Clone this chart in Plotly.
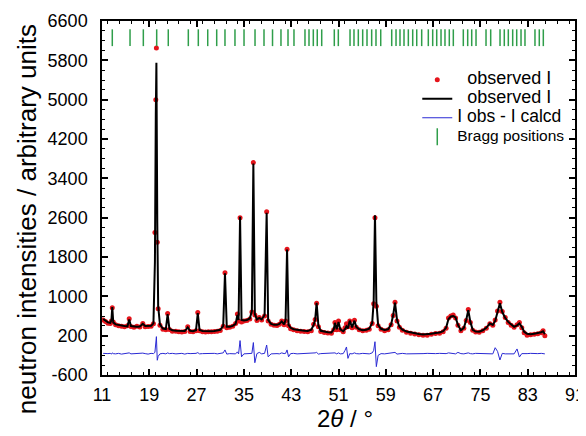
import plotly.graph_objects as go

# ---- data ----
two_theta = [11.2, 11.6, 12.0, 12.4, 12.6, 12.74, 12.9, 13.3, 13.8, 14.3, 14.8, 15.3, 15.6, 15.9,
             16.4, 16.9, 17.4, 17.9, 18.3, 18.8, 19.3, 19.7, 19.95, 20.1, 20.2, 20.35, 20.5, 20.8,
             21.3, 21.8, 22.1, 22.4, 22.9, 23.5, 24.0, 24.5, 25.0, 25.5, 25.9, 26.4, 26.9, 27.2,
             27.5, 28.0, 28.5, 29.0, 29.5, 30.0, 30.5, 31.0, 31.5, 31.8, 32.1, 32.6, 33.1, 33.6,
             33.9, 34.1, 34.35, 34.6, 35.0, 35.5, 36.0, 36.35, 36.6, 36.85, 37.2, 37.6, 38.0, 38.5,
             38.85, 39.1, 39.6, 40.1, 40.6, 41.0, 41.4, 41.8, 42.05, 42.3, 42.55, 42.9, 43.4, 44.0,
             44.6, 45.2, 45.8, 46.4, 46.8, 47.05, 47.3, 47.6, 48.0, 48.6, 49.2, 49.8, 50.2, 50.4,
             50.7, 51.0, 51.3, 51.8, 52.1, 52.35, 52.6, 52.9, 53.3, 53.7, 54.0, 54.5, 55.1, 55.7,
             56.2, 56.7, 56.95, 57.17, 57.4, 57.7, 58.2, 58.8, 59.4, 59.9, 60.25, 60.56, 60.9, 61.3,
             61.8, 62.5, 63.2, 63.9, 64.6, 65.3, 66.0, 66.7, 67.4, 68.1, 68.7, 69.2, 69.6, 70.0,
             70.4, 70.8, 71.2, 71.7, 72.2, 72.6, 72.95, 73.3, 73.7, 74.2, 74.8, 75.4, 76.0, 76.6,
             77.1, 77.5, 77.9, 78.3, 78.7, 79.2, 79.7, 80.2, 80.7, 81.2, 81.6, 82.0, 82.4, 82.9,
             83.5, 84.1, 84.7, 85.3, 85.6, 85.9]

i_calc = [540, 500, 470, 460, 520, 780, 470, 430, 415, 400, 395, 390, 530, 395,
          380, 380, 385, 440, 395, 390, 400, 450, 1700, 4700, 5750, 2500, 800, 430,
          345, 335, 640, 340, 310, 300, 295, 290, 295, 370, 300, 290, 310, 660,
          315, 295, 290, 290, 290, 295, 300, 320, 400, 1470, 380, 380, 400, 440,
          620, 520, 2620, 520, 510, 520, 550, 700, 3700, 640, 530, 560, 530, 620,
          2700, 520, 440, 420, 420, 440, 490, 430, 520, 1950, 420, 360, 330, 315,
          305, 300, 295, 320, 420, 520, 870, 400, 300, 280, 270, 265, 330, 460,
          330, 480, 330, 290, 330, 390, 350, 505, 370, 505, 380, 330, 310, 320,
          340, 460, 900, 2650, 900, 420, 340, 315, 330, 430, 620, 870, 520, 380,
          320, 285, 265, 250, 235, 225, 225, 240, 255, 265, 290, 360, 540, 590,
          600, 570, 420, 310, 360, 520, 720, 480, 320, 285, 280, 310, 360, 450,
          420, 500, 680, 860, 680, 560, 480, 420, 380, 410, 450, 380, 280, 240,
          230, 240, 250, 270, 290, 230]

i_obs = [520, 490, 455, 450, 500, 770, 480, 420, 400, 390, 380, 400, 545, 385,
         370, 390, 375, 450, 380, 385, 390, 440, 2300, 5000, 6050, 2100, 750, 410,
         330, 320, 650, 325, 290, 290, 280, 275, 285, 380, 285, 280, 300, 670,
         300, 280, 275, 280, 280, 285, 290, 305, 390, 1480, 360, 370, 390, 450,
         640, 500, 2600, 480, 500, 510, 540, 680, 3720, 620, 510, 570, 520, 600,
         2720, 500, 430, 410, 405, 430, 500, 420, 500, 1960, 400, 340, 320, 300,
         290, 285, 280, 300, 430, 530, 860, 380, 285, 265, 255, 250, 320, 470,
         320, 500, 320, 280, 360, 440, 380, 500, 360, 515, 370, 320, 300, 310,
         330, 450, 850, 2600, 800, 400, 330, 300, 320, 420, 610, 880, 500, 370,
         310, 270, 250, 235, 220, 210, 210, 230, 245, 250, 280, 350, 560, 600,
         620, 560, 410, 300, 350, 510, 730, 470, 310, 275, 270, 300, 350, 440,
         410, 520, 700, 880, 690, 570, 470, 410, 370, 420, 470, 360, 260, 210,
         220, 230, 240, 260, 300, 200]

i_diff = [-160, -170, -165, -160, -175, -150, -165, -170, -160, -175, -165, -160, -150, -170,
          -165, -160, -170, -155, -165, -175, -160, -165, -140, 60, 180, -300, -220, -170,
          -160, -170, -150, -165, -160, -170, -165, -160, -175, -160, -165, -170, -160, -145,
          -170, -165, -160, -170, -165, -160, -170, -165, -150, -90, -175, -165, -160, -170,
          -130, -170, 100, -230, -170, -165, -170, -160, 60, -350, -165, -140, -170, -160,
          10, -230, -170, -160, -165, -170, -150, -165, -160, -90, -230, -165, -160, -170,
          -165, -160, -170, -165, -160, -150, -140, -175, -165, -160, -170, -165, -160, -150,
          -170, -150, -170, -165, -100, -30, -262, -165, -170, -150, -165, -170, -160, -165,
          -170, -150, -100, 77, -430, -200, -165, -170, -160, -165, -150, -140, -175, -165,
          -160, -170, -165, -160, -170, -165, -160, -170, -165, -160, -170, -165, -150, -160,
          -155, -170, -140, -165, -170, -155, -150, -165, -170, -160, -165, -170, -160, -165,
          -170, -45, -120, -295, -160, -170, -165, -160, -170, -70, -235, -165, -170, -165,
          -160, -170, -165, -160, -165, -170]

bragg_theta = [12.74, 15.74, 17.99, 20.25, 22.21, 25.60, 27.29, 28.88, 30.40, 31.80, 33.49,
               35.02, 36.88, 38.40, 39.84, 41.27, 42.46, 43.47, 45.33, 46.01, 46.74, 47.41,
               48.16, 50.29, 50.97, 52.95, 53.62, 54.35, 55.09, 55.82, 56.61, 57.34, 58.14,
               60.00, 60.73, 61.40, 62.08, 62.81, 63.55, 64.23, 65.07, 66.19, 66.93, 67.61,
               68.34, 69.01, 69.74, 70.42, 72.11, 72.85, 73.53, 74.26, 75.95, 76.74, 78.32,
               79.04, 79.72, 80.46, 81.14, 81.87, 82.54, 84.23, 84.96, 85.64]
BRAGG_ROW = 6260

x_ticks = [11, 19, 27, 35, 43, 51, 59, 67, 75, 83, 91]
y_ticks = [-600, 200, 1000, 1800, 2600, 3400, 4200, 5000, 5800, 6600]
y_ticktext = ["-600", "200", "1000", "1800", "2600", "3400", "4200", "5000", "5800", "6600"]

FONT = "Arial, Liberation Sans, sans-serif"


def lg(text, size):
    return f'<span style="font-size:{size}px">{text}</span>'


fig = go.Figure()

fig.add_trace(go.Scatter(
    x=two_theta, y=i_obs, mode="markers", name=lg("&nbsp;&nbsp;observed I", 18),
    marker=dict(color="#e5141b", size=5, symbol="circle", line=dict(width=0)),
))
fig.add_trace(go.Scatter(
    x=two_theta, y=i_calc, mode="lines", name=lg("&nbsp;&nbsp;observed I", 18),
    line=dict(color="black", width=2),
))
fig.add_trace(go.Scatter(
    x=two_theta, y=i_diff, mode="lines", name=lg("I obs - I calcd", 17.5),
    line=dict(color="#2a2ad4", width=1),
))
fig.add_trace(go.Scatter(
    x=bragg_theta, y=[BRAGG_ROW] * len(bragg_theta), mode="markers",
    name=lg("Bragg positions", 15.5),
    marker=dict(symbol="line-ns-open", size=12, color="#2f9e4a", line=dict(color="#2f9e4a", width=1.5)),
))

axis_common = dict(
    showline=True, linecolor="black", linewidth=1.5, mirror="ticks",
    ticks="inside", ticklen=6, tickwidth=1.5, tickcolor="black",
    showgrid=False, zeroline=False, automargin=False,
    tickfont=dict(family=FONT, size=18, color="black"),
)

fig.update_xaxes(
    range=[11, 91], tickvals=x_ticks,
    minor=dict(dtick=2, ticks="inside", ticklen=3, tickwidth=1, tickcolor="black", showgrid=False),
    ticklabelstandoff=3,
    **axis_common,
)
fig.update_yaxes(
    range=[-600, 6600], tickvals=y_ticks, ticktext=y_ticktext,
    minor=dict(dtick=200, ticks="inside", ticklen=3, tickwidth=1, tickcolor="black", showgrid=False),
    ticklabelstandoff=9,
    **axis_common,
)

# axis titles placed as annotations (the y title sits below the plot centre in the reference)
fig.add_annotation(
    text="neutron intensities / arbitrary units", textangle=-90,
    xref="paper", yref="paper", x=-0.1586, y=0.44, xanchor="center", yanchor="middle",
    showarrow=False, font=dict(family=FONT, size=26, color="black"),
)
fig.add_annotation(
    text="2<i>θ</i> / °",
    xref="paper", yref="paper", x=0.514, y=-0.124, xanchor="center", yanchor="middle",
    showarrow=False, font=dict(family=FONT, size=24, color="black"),
)

# the page body has an 8 px default margin, so the figure is sized and offset to suit
fig.update_layout(
    width=578, height=428,
    margin=dict(l=94, r=11, t=13, b=61),
    paper_bgcolor="white", plot_bgcolor="white",
    showlegend=True,
    legend=dict(
        x=0.99, xanchor="right", y=0.875, yanchor="top",
        bgcolor="rgba(0,0,0,0)", font=dict(family=FONT, size=12, color="black"),
        itemwidth=30, tracegroupgap=0,
    ),
)

fig.write_html("out.html")
